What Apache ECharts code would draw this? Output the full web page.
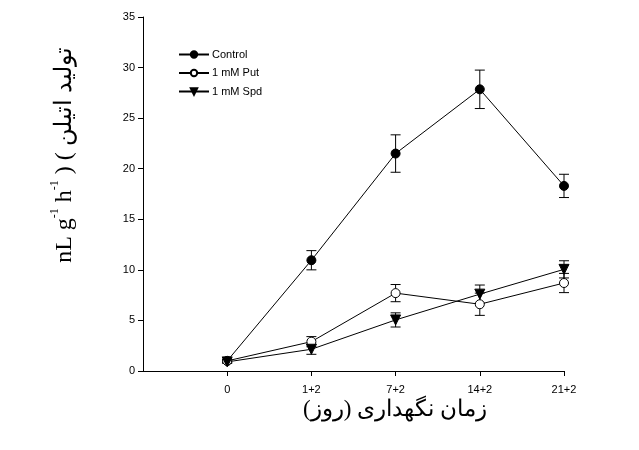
<!DOCTYPE html>
<html>
<head>
<meta charset="utf-8">
<script src="https://cdn.jsdelivr.net/npm/echarts@6/dist/echarts.min.js"></script>
<style>html,body{margin:0;padding:0;background:#fff}#c{width:639px;height:450px}</style>
</head>
<body>
<div id="c"></div>
<script>
const categories = ['0', '1+2', '7+2', '14+2', '21+2'];
const xPositions = [0, 1, 2, 3, 4];
const controlValues = [1.0, 10.95, 21.5, 27.85, 18.3];
const controlErrors = [0.15, 0.95, 1.85, 1.9, 1.15];
const putValues = [1.0, 2.9, 7.7, 6.6, 8.7];
const putErrors = [0.15, 0.5, 0.85, 1.1, 0.95];
const spdValues = [0.9, 2.15, 5.05, 7.6, 10.05];
const spdErrors = [0.15, 0.5, 0.7, 0.9, 0.85];
const yTicks = [0, 5, 10, 15, 20, 25, 30, 35];
const seriesNames = ['Control', '1 mM Put', '1 mM Spd'];

const chart = echarts.init(document.getElementById('c'), null, {renderer: 'canvas'});

function pts(vals) { return vals.map((v, i) => [xPositions[i], v]); }
function errData(vals, errs) { return vals.map((v, i) => [xPositions[i], v - errs[i], v + errs[i]]); }

function errSeries(vals, errs) {
  return {
    type: 'custom',
    silent: true,
    z: 1,
    data: errData(vals, errs),
    renderItem: function (params, api) {
      const x = api.value(0);
      const lo = api.coord([x, api.value(1)]);
      const hi = api.coord([x, api.value(2)]);
      const w = 5;
      const st = {stroke: '#000', lineWidth: 1};
      return {
        type: 'group',
        children: [
          {type: 'line', shape: {x1: lo[0], y1: lo[1], x2: hi[0], y2: hi[1]}, style: st},
          {type: 'line', shape: {x1: lo[0] - w, y1: lo[1], x2: lo[0] + w, y2: lo[1]}, style: st},
          {type: 'line', shape: {x1: hi[0] - w, y1: hi[1], x2: hi[0] + w, y2: hi[1]}, style: st}
        ]
      };
    }
  };
}

function lineSeries(name, vals, symbol, fill, size) {
  return {
    name: name,
    type: 'line',
    data: pts(vals),
    symbol: symbol,
    symbolSize: size,
    showAllSymbol: true,
    z: 3,
    lineStyle: {color: '#000', width: 1},
    itemStyle: {color: fill, borderColor: '#000', borderWidth: 1, opacity: 1},
    emphasis: {disabled: true},
    animation: false
  };
}

const option = {
  animation: false,
  grid: {left: 143, right: 75, top: 17, bottom: 79, containLabel: false},
  xAxis: {
    type: 'value',
    min: -1, max: 4, interval: 1,
    splitLine: {show: false},
    axisLine: {show: true, onZero: false, lineStyle: {color: '#000', width: 1}},
    axisTick: {show: true, length: 5, lineStyle: {color: '#000'}, customValues: xPositions},
    axisLabel: {
      customValues: xPositions,
      formatter: function (v) { const i = xPositions.indexOf(v); return i >= 0 ? categories[i] : ''; },
      color: '#000', fontFamily: 'Liberation Sans, Arial', fontSize: 11, margin: 13
    }
  },
  yAxis: {
    type: 'value',
    min: 0, max: 35, interval: 5,
    splitLine: {show: false},
    axisLine: {show: true, onZero: false, lineStyle: {color: '#000', width: 1}},
    axisTick: {show: true, length: 5, lineStyle: {color: '#000'}},
    axisLabel: {color: '#000', fontFamily: 'Liberation Sans, Arial', fontSize: 11, margin: 8,
      formatter: function (v) { return yTicks.indexOf(v) >= 0 ? String(v) : ''; }}
  },
  legend: {
    orient: 'vertical',
    left: 173, top: 44,
    itemWidth: 30, itemHeight: 8, itemGap: 7.5,
    data: seriesNames,
    textStyle: {color: '#000', fontFamily: 'Liberation Sans, Arial', fontSize: 11, padding: [0, 0, 0, -2]},
    selectedMode: false
  },
  graphic: [
    {
      type: 'text',
      x: 63, y: 155,
      rotation: Math.PI / 2,
      style: {
        text: '{b|nL g}{s|-1}{b| h}{s|-1}{b| ) ( تولید اتیلن}',
        align: 'center', verticalAlign: 'middle',
        fill: '#000',
        rich: {
          b: {fontFamily: 'Liberation Serif, Times New Roman, DejaVu Serif', fontSize: 24, fill: '#000', verticalAlign: 'bottom', lineHeight: 28},
          s: {fontFamily: 'Liberation Serif, Times New Roman', fontSize: 12, fill: '#000', verticalAlign: 'top', lineHeight: 28}
        }
      }
    },
    {
      type: 'text',
      x: 395, y: 410,
      style: {
        text: 'زمان نگهداری (روز)\u200F',
        align: 'center', verticalAlign: 'middle',
        fill: '#000',
        font: '23px "Liberation Serif", "DejaVu Serif", serif'
      }
    }
  ],
  series: [
    errSeries(controlValues, controlErrors),
    errSeries(putValues, putErrors),
    errSeries(spdValues, spdErrors),
    lineSeries(seriesNames[0], controlValues, 'circle', '#000', 9),
    lineSeries(seriesNames[1], putValues, 'circle', '#fff', 9),
    lineSeries(seriesNames[2], spdValues, 'triangle', '#000', 10)
  ]
};
option.series[5].symbolRotate = 180;
chart.setOption(option);
</script>
</body>
</html>
